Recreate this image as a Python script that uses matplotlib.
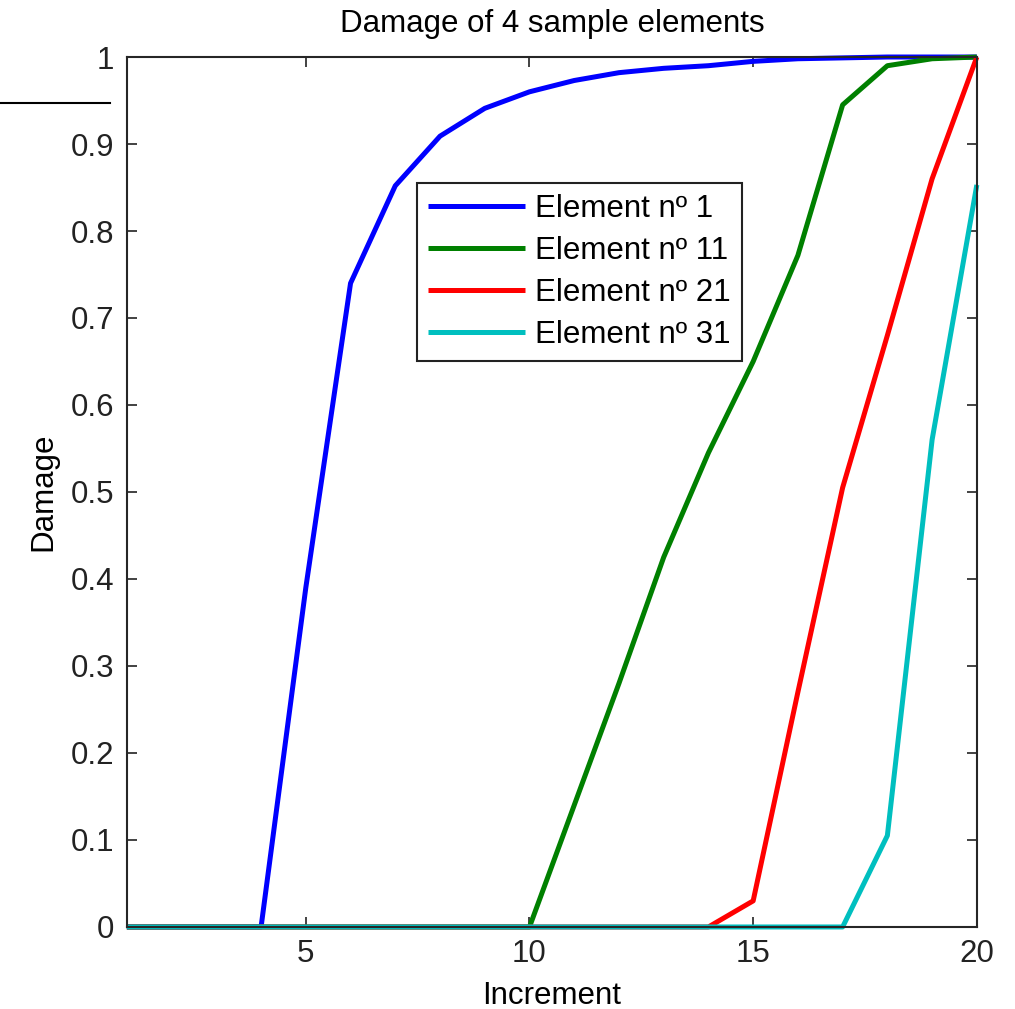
import matplotlib.pyplot as plt
from matplotlib.lines import Line2D

plt.rcParams['font.family'] = ['Liberation Sans', 'DejaVu Sans']

# increments 1..20
increment = list(range(1, 21))

# damage per element
elem_1 = [0, 0, 0, 0, 0.39, 0.74, 0.852, 0.909, 0.941, 0.96,
          0.973, 0.982, 0.987, 0.99, 0.995, 0.998, 0.999, 1.0, 1.0, 1.0]
elem_11 = [0, 0, 0, 0, 0, 0, 0, 0, 0, 0,
           0.14, 0.28, 0.425, 0.545, 0.65, 0.772, 0.945, 0.99, 0.998, 1.0]
elem_21 = [0, 0, 0, 0, 0, 0, 0, 0, 0, 0,
           0, 0, 0, 0, 0.03, 0.27, 0.505, 0.68, 0.86, 1.0]
elem_31 = [0, 0, 0, 0, 0, 0, 0, 0, 0, 0,
           0, 0, 0, 0, 0, 0, 0, 0.105, 0.56, 0.853]

labels = ["Element nº 1", "Element nº 11", "Element nº 21", "Element nº 31"]
colors = ["#0000ff", "#008000", "#ff0000", "#00bfbf"]

FS = 22.5

fig = plt.figure(figsize=(10.15, 10.09), dpi=100)
ax = fig.add_axes([0.125, 0.0813, 0.8374, 0.8622])

for ys, lab, col in zip([elem_1, elem_11, elem_21, elem_31], labels, colors):
    ax.plot(increment, ys, color=col, lw=3.6, label=lab, clip_on=False,
            solid_capstyle="butt")

ax.set_xlim(1, 20)
ax.set_ylim(0, 1)
ax.set_xticks([5, 10, 15, 20])
yt = [i / 10 for i in range(11)]
ax.set_yticks(yt)
ax.set_yticklabels(["0"] + [f"{v:.1f}" for v in yt[1:-1]] + ["1"])
ax.tick_params(direction="in", length=7, width=1.2, top=True, right=True,
               labelsize=FS, colors="#222222", pad=9)
for s in ax.spines.values():
    s.set_linewidth(1.5)
    s.set_color("#262626")

ax.set_title("Damage of 4 sample elements", fontsize=FS, pad=18)
ax.set_xlabel("Increment", fontsize=FS, labelpad=8)
ax.set_ylabel("Damage", fontsize=FS, labelpad=9)

leg = ax.legend(loc="upper left", bbox_to_anchor=(0.341, 0.855), fontsize=FS,
                handlelength=3.1, labelspacing=0.38, borderpad=0.35,
                handletextpad=0.35, fancybox=False, framealpha=1,
                edgecolor="#222222", borderaxespad=0)
leg.get_frame().set_linewidth(1.5)
leg.set_zorder(5)

# stray line at the top left
fig.add_artist(Line2D([0, 0.108], [0.898, 0.898], color="black", lw=1.5,
                      transform=fig.transFigure))

fig.savefig("out.png", dpi=100)
